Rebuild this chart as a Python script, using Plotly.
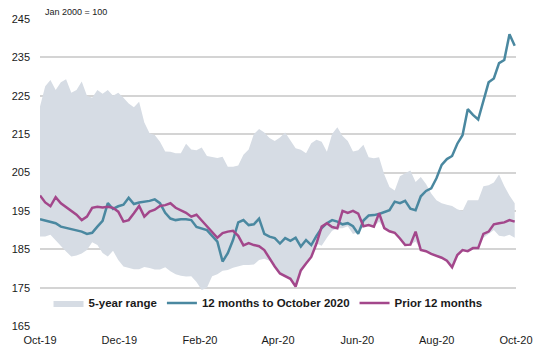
import pandas as pd
import plotly.graph_objects as go

dates = pd.date_range("2019-10-01", "2020-09-30", periods=92)

range_high = [
    222.2, 227.5, 229.1, 226.5, 228.5, 229.3, 225.8, 226.5, 228.7, 225.0,
    224.5, 226.5, 225.5, 226.5, 225.0, 225.8, 224.5, 223.0, 222.0, 223.4,
    218.0, 215.2, 214.8, 213.0, 210.5, 210.4, 210.0, 210.0, 212.5, 211.0,
    210.8, 211.5, 209.3, 209.0, 208.8, 209.1, 206.5, 206.5, 206.8, 209.6,
    211.0, 215.0, 216.3, 215.4, 214.0, 213.2, 214.1, 215.4, 213.5, 211.3,
    210.9, 210.0, 212.6, 213.5, 213.0, 210.4, 215.0, 216.8, 214.5, 213.2,
    210.5, 210.8, 212.2, 209.0, 208.7, 209.0, 204.5, 201.2, 200.3, 204.0,
    204.8, 205.5, 202.5, 203.8, 202.0, 199.5, 197.8, 197.0, 196.6, 196.3,
    195.4, 195.0, 197.8, 197.8, 197.8, 201.4, 201.7, 202.4, 204.5, 201.5,
    199.0, 197.0,
]

range_low = [
    188.3, 188.3, 188.8, 187.3, 186.0, 184.4, 183.1, 183.4, 183.9, 184.8,
    186.8, 186.1, 184.0, 183.1, 184.6, 182.2, 180.5, 180.2, 179.8, 179.8,
    180.4, 180.1, 179.7, 179.7, 180.3, 179.3, 178.5, 178.1, 177.9, 178.0,
    176.5, 174.4, 175.0, 178.0, 178.5, 179.4, 179.6, 180.2, 180.6, 180.9,
    180.9, 181.0, 182.2, 182.5, 182.0, 180.5, 178.7, 177.9, 177.3, 175.3,
    179.5, 181.3, 183.0, 186.5, 185.9, 188.0, 189.8, 190.5, 190.5, 191.0,
    189.0, 189.5, 191.0, 191.3, 190.9, 192.2, 190.5, 189.7, 189.3, 187.8,
    186.1, 186.2, 187.0, 184.8, 184.5, 183.8, 183.3, 182.8, 182.0, 180.3,
    183.5, 184.8, 184.5, 185.3, 185.3, 188.0, 189.0, 190.0, 188.5, 188.3,
    188.8, 188.0,
]

last_12m = [
    192.8, 192.4, 192.1, 191.8, 190.9, 190.6, 190.2, 189.9, 189.6, 189.0,
    189.3, 190.9, 192.4, 197.0, 195.5, 196.2, 196.6, 198.4, 196.8, 197.2,
    197.4, 197.6, 198.0, 197.0, 194.5, 193.0, 192.6, 192.8, 192.8, 192.6,
    190.8, 190.3, 190.0, 188.5, 187.0, 181.8, 184.0, 187.4, 192.0, 192.6,
    191.3, 191.5, 193.0, 189.0, 188.3, 187.9, 186.5, 187.9, 187.2, 188.0,
    185.7, 187.4, 186.1, 188.5, 190.5, 191.8, 192.6, 192.2, 191.5, 191.8,
    191.0, 189.0, 192.5, 193.8, 193.9, 194.2, 194.8, 195.2, 197.4, 197.0,
    197.6, 195.6, 195.2, 198.8, 200.2, 200.9, 203.5, 207.0, 208.5, 209.3,
    212.5, 214.7, 221.5, 220.0, 218.8, 223.8, 228.5, 229.5, 233.5, 234.3,
    241.0, 238.0,
]

prior_12m = [
    199.0, 197.2, 196.2, 198.6, 197.0, 196.0, 195.0, 194.0, 192.6, 193.5,
    195.8, 196.1, 195.9, 196.1, 195.8, 194.8, 192.2, 192.6, 194.4, 196.3,
    193.5, 194.8, 195.3, 196.3, 196.5, 197.0, 195.8, 195.2, 194.5, 193.5,
    194.0, 192.5, 191.0, 189.5, 188.0, 189.2, 189.6, 189.8, 188.5, 186.0,
    186.6, 186.1, 185.8, 184.8, 182.6, 180.5, 178.7, 177.9, 177.3, 175.3,
    179.5, 181.3, 183.0, 186.5, 190.9, 191.8, 190.8, 190.5, 195.0, 194.5,
    195.0, 194.3, 191.0, 191.3, 190.9, 194.4, 190.5, 189.7, 189.3, 187.8,
    186.1, 186.2, 189.6, 184.8, 184.5, 183.8, 183.3, 182.8, 182.0, 180.3,
    183.5, 184.8, 184.5, 185.3, 185.3, 189.0, 189.6, 191.5, 191.8, 192.0,
    192.6, 192.2,
]

x_tick_dates = ["2019-10-01", "2019-12-01", "2020-02-01", "2020-04-01",
                "2020-06-01", "2020-08-01", "2020-10-01"]
x_tick_labels = ["Oct-19", "Dec-19", "Feb-20", "Apr-20", "Jun-20", "Aug-20", "Oct-20"]
y_ticks = [165, 175, 185, 195, 205, 215, 225, 235, 245]

FILL = "#d6dce4"
BLUE = "#4a88a0"
MAGENTA = "#a3478b"
FONT = "Liberation Sans, Arial, sans-serif"

fig = go.Figure()
fig.add_trace(go.Scatter(x=dates, y=range_low, mode="lines", line=dict(width=0, color=FILL),
                         showlegend=False, hoverinfo="skip"))
fig.add_trace(go.Scatter(x=dates, y=range_high, mode="lines", line=dict(width=0, color=FILL),
                         fill="tonexty", fillcolor=FILL, name="5-year range"))
fig.add_trace(go.Scatter(x=dates, y=last_12m, mode="lines", line=dict(width=2.5, color=BLUE),
                         name="12 months to October 2020"))
fig.add_trace(go.Scatter(x=dates, y=prior_12m, mode="lines", line=dict(width=2.5, color=MAGENTA),
                         name="Prior 12 months"))

fig.update_layout(
    width=533, height=348,
    margin=dict(l=40, r=17, t=18, b=21),
    paper_bgcolor="white", plot_bgcolor="white",
    font=dict(family=FONT, size=11, color="#1a1a1a"),
    showlegend=True,
    legend=dict(orientation="h", x=0.479, xanchor="center", y=0.078, yanchor="middle",
                traceorder="normal",
                font=dict(family=FONT, size=11.5, color="#1a1a1a", weight="bold"),
                bgcolor="rgba(0,0,0,0)", itemwidth=30, tracegroupgap=0),
    xaxis=dict(range=["2019-10-01", "2020-10-01"], tickvals=x_tick_dates, ticktext=x_tick_labels,
               showgrid=False, zeroline=False, showline=False, ticks="", automargin=False,
               ticklabelstandoff=5, tickfont=dict(size=11)),
    yaxis=dict(range=[164.75, 245.25], tickvals=y_ticks, showgrid=True, gridcolor="#d4d4d4",
               gridwidth=1.5, zeroline=False, showline=False, ticks="", automargin=False,
               ticklabelstandoff=9, tickfont=dict(size=11)),
    annotations=[dict(text="Jan 2000 = 100", xref="paper", yref="paper", x=0.006, y=1.02,
                      xanchor="left", yanchor="middle", showarrow=False,
                      font=dict(family=FONT, size=9, color="#1a1a1a"))],
)

fig.write_html("out.html")
